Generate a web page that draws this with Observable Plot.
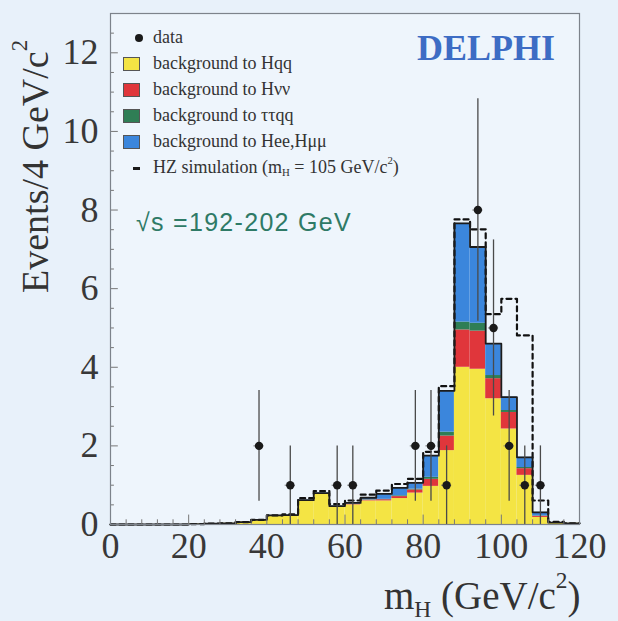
<!DOCTYPE html>
<html><head><meta charset="utf-8">
<script src="https://cdn.jsdelivr.net/npm/d3@7"></script>
<script src="https://cdn.jsdelivr.net/npm/@observablehq/plot@0.6"></script>
<style>
body{margin:0;background:#e8f1fa;}
#wrap{position:relative;width:618px;height:621px;overflow:hidden;background:#e8f1fa;}
#wrap svg{position:absolute;left:0;top:0;}
.t{position:absolute;white-space:nowrap;line-height:1;}
.serif{font-family:'Liberation Serif','Times New Roman',serif;color:#333;}
.leg{font-size:18px;color:#333;}
.sw{position:absolute;width:15px;height:12px;border:1px solid #555;}
sub,sup{line-height:0;}
</style></head><body><div id="wrap"></div>
<script>
// bin lower edges (4 GeV/c^2 bins)
const binLo = [0,4,8,12,16,20,24,28,32,36,40,44,48,52,56,60,64,68,72,76,80,84,88,92,96,100,104,108,112,116];
// background contributions per bin (events / 4 GeV/c^2)
const bkgHqq    = [0,0,0,0,0,0.01,0.02,0.03,0.06,0.12,0.22,0.23,0.60,0.77,0.44,0.50,0.60,0.60,0.66,0.80,0.97,1.88,4.00,3.95,3.20,2.43,1.25,0.18,0.04,0.03];
const bkgHnn    = [0,0,0,0,0,0,0,0,0,0,0,0,0,0,0.01,0.02,0.02,0.03,0.05,0.08,0.18,0.37,0.95,0.97,0.51,0.42,0.17,0.03,0,0];
const bkgTauTau = [0,0,0,0,0,0,0,0,0,0,0,0,0,0,0,0,0.01,0.01,0.02,0.02,0.05,0.10,0.20,0.20,0.08,0.05,0.03,0.01,0,0];
const bkgHeeHmm = [0,0,0,0,0,0,0,0,0,0,0.01,0.01,0.02,0.03,0.02,0.03,0.05,0.14,0.20,0.16,0.55,1.05,2.51,1.94,0.81,0.34,0.26,0.09,0.01,0];
// HZ signal (m_H = 105 GeV/c^2) added on top of the total background
const hzSignal  = [0,0,0,0,0,0,0,0,0,0,0,0.02,0.05,0.05,0.05,0.06,0.08,0.08,0.10,0.10,0.10,0.12,0.10,0.45,0.75,2.50,3.10,0.30,0.02,0];
// data
const dataMass  = [38,46,58,62,78,82,86,94,98,102,106,110];
const dataCount = [2,1,1,1,2,2,1,8,5,2,1,1];
const dataErr   = [1.41,1,1,1,1.41,1.41,1,2.83,2.24,1.41,1,1];
// ticks
const xTicks = [0,20,40,60,80,100,120];
const yTicks = [0,2,4,6,8,10,12];
const xMinor = [4,8,12,16,24,28,32,36,44,48,52,56,64,68,72,76,84,88,92,96,104,108,112,116];
const yMinor = [0.5,1,1.5,2.5,3,3.5,4.5,5,5.5,6.5,7,7.5,8.5,9,9.5,10.5,11,11.5,12.5];

const binW = 4;
const layers = [
  {name:"Hqq", vals:bkgHqq, color:"#f4e444"},
  {name:"Hnn", vals:bkgHnn, color:"#e0363b"},
  {name:"tautau", vals:bkgTauTau, color:"#2f7e55"},
  {name:"HeeHmm", vals:bkgHeeHmm, color:"#3b86dc"}
];
const rects = [];
const totals = binLo.map(() => 0);
binLo.forEach((lo, i) => {
  let c = 0;
  layers.forEach(L => {
    const v = L.vals[i];
    if (v > 0) rects.push({x1: lo, x2: lo + binW, y1: c, y2: c + v, color: L.color});
    c += v;
  });
  totals[i] = c;
});
const outline = binLo.map((lo, i) => ({x: lo, y: totals[i]}));
outline.push({x: 120, y: totals[totals.length - 1]});
const hzLine = binLo.map((lo, i) => ({x: lo, y: totals[i] + hzSignal[i]}));
hzLine.push({x: 120, y: totals[totals.length - 1] + hzSignal[hzSignal.length - 1]});
const pts = dataMass.map((m, i) => ({x: m, y: dataCount[i], lo: Math.max(0, dataCount[i] - dataErr[i]), hi: dataCount[i] + dataErr[i]}));

const chart = Plot.plot({
  width: 618, height: 621,
  marginLeft: 110, marginRight: 39, marginTop: 13, marginBottom: 97,
  x: {domain: [0, 120], ticks: xTicks, tickSize: 0, tickPadding: 8, label: null},
  y: {domain: [0, 13], ticks: yTicks, tickSize: 0, tickPadding: 12, label: null},
  style: {background: "transparent", fontFamily: "'Liberation Serif','Times New Roman',serif", fontSize: "36px", color: "#383838", overflow: "visible"},
  marks: [
    Plot.frame({fill: "#eef5fc", stroke: "none"}),
    Plot.rect(rects, {x1: "x1", x2: "x2", y1: "y1", y2: "y2", fill: "color"}),
    Plot.line(hzLine, {x: "x", y: "y", curve: "step-after", stroke: "#111", strokeWidth: 2.2, strokeDasharray: "5,4"}),
    Plot.line(outline, {x: "x", y: "y", curve: "step-after", stroke: "#1c1c1c", strokeWidth: 1.8}),
    Plot.ruleX(pts, {x: "x", y1: "lo", y2: "hi", stroke: "#4a4a4a", strokeWidth: 1.3}),
    Plot.ruleY(pts, {y: "y", x1: d => d.x - 1.3, x2: d => d.x + 1.3, stroke: "#777", strokeWidth: 1}),
    Plot.dot(pts, {x: "x", y: "y", r: 4.2, fill: "#1a1a1a", stroke: "none"}),
    Plot.ruleX(xMinor, {x: d => d, y1: 0, y2: 0.12, stroke: "#777", strokeWidth: 1}),
    Plot.ruleX(xTicks, {x: d => d, y1: 0, y2: 0.24, stroke: "#777", strokeWidth: 1}),
    Plot.ruleY(yMinor, {y: d => d, x1: 0, x2: 1, stroke: "#777", strokeWidth: 1}),
    Plot.ruleY(yTicks, {y: d => d, x1: 0, x2: 2, stroke: "#777", strokeWidth: 1}),
    Plot.frame({stroke: "#7d838b", strokeWidth: 1.2})
  ]
});
const wrap = document.getElementById("wrap");
wrap.appendChild(chart);

function add(html, css, cls) {
  const d = document.createElement("div");
  d.className = "t " + (cls || "");
  d.innerHTML = html;
  Object.assign(d.style, css);
  wrap.appendChild(d);
  return d;
}
// axis titles
add("Events/4 GeV/c<sup style='font-size:0.6em;vertical-align:0.9em'>2</sup>",
    {left: "16px", top: "293px", fontSize: "38px", transform: "rotate(-90deg)", transformOrigin: "0 0"}, "serif");
add("m<sub style='font-size:0.6em;vertical-align:-0.35em'>H</sub> (GeV/c<sup style='font-size:0.6em;vertical-align:0.9em'>2</sup>)",
    {left: "384px", top: "576px", fontSize: "39px"}, "serif");
// annotations
add("DELPHI", {left: "417px", top: "30px", fontSize: "36px", fontWeight: "bold", color: "#3d6cc4", fontFamily: "'Liberation Serif','Times New Roman',serif"});
add("√s =192-202 GeV", {left: "136px", top: "210px", fontSize: "25px", letterSpacing: "1.3px", color: "#2e7a66", fontFamily: "'Liberation Sans',Arial,sans-serif"});

// legend
const legendItems = [
  {label: "data", kind: "dot"},
  {label: "background to Hqq", kind: "box", color: layers[0].color},
  {label: "background to Hνν", kind: "box", color: layers[1].color},
  {label: "background to ττqq", kind: "box", color: layers[2].color},
  {label: "background to Hee,Hμμ", kind: "box", color: layers[3].color},
  {label: "HZ simulation (m<sub style='font-size:0.6em;vertical-align:-0.3em'>H</sub> = 105 GeV/c<sup style='font-size:0.6em;vertical-align:0.8em'>2</sup>)", kind: "dash"}
];
const legY = [38, 64, 90, 116, 142, 168];
legendItems.forEach((it, i) => {
  const cy = legY[i];
  add(it.label, {left: "153px", top: (cy - 10) + "px", fontSize: "18px"}, "serif leg");
  if (it.kind === "box") {
    const s = document.createElement("div");
    s.className = "sw";
    Object.assign(s.style, {left: "123px", top: (cy - 7) + "px", background: it.color});
    wrap.appendChild(s);
  } else if (it.kind === "dot") {
    const s = document.createElement("div");
    Object.assign(s.style, {position: "absolute", left: "135px", top: (cy - 4) + "px", width: "8px", height: "8px", borderRadius: "50%", background: "#1a1a1a"});
    wrap.appendChild(s);
  } else {
    const s = document.createElement("div");
    Object.assign(s.style, {position: "absolute", left: "133px", top: (cy - 1) + "px", width: "7px", height: "3px", background: "#1a1a1a"});
    wrap.appendChild(s);
  }
});
</script></body></html>
